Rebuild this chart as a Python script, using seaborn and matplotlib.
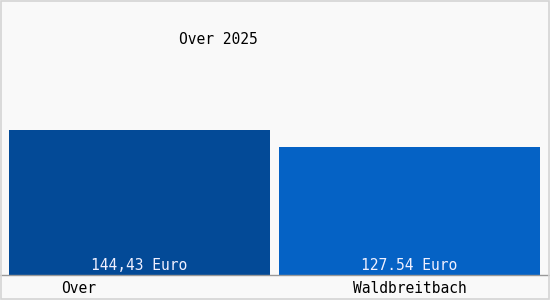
import matplotlib
matplotlib.use("Agg")
import matplotlib.pyplot as plt
import seaborn as sns
import pandas as pd
from matplotlib.patches import Rectangle

categories = ["Over", "Waldbreitbach"]
values = [144.43, 127.54]
value_labels = ["144,43 Euro", "127.54 Euro"]
title = "Over 2025"
bar_colors = ["#034a97", "#0562c5"]

sns.set_style("white")
plt.rcParams["font.family"] = ["DejaVu Sans Mono", "DejaVu Sans"]

df = pd.DataFrame({"cat": categories, "val": values})

fig = plt.figure(figsize=(5.5, 3.0), dpi=100, facecolor="#f9f9f9")
ax = fig.add_axes([0.0, 25 / 300, 1.0, 265 / 300])
ax.set_facecolor("#f9f9f9")

sns.barplot(data=df, x="cat", y="val", hue="cat", palette=bar_colors,
            width=0.967, legend=False, ax=ax, saturation=1, linewidth=0)

ax.set_xlim(-0.515, 1.520)
ax.set_ylim(0, 265 / 1.005)

for i, lab in enumerate(value_labels):
    ax.text(i, 1.5, lab, ha="center", va="bottom", color="#f0f0ff", fontsize=10.5)

ax.set_xticks([-0.224, 1])
ax.set_xticklabels(categories, fontsize=10.5, color="black")
ax.tick_params(axis="x", length=0, pad=4)
ax.set_yticks([])
ax.set_xlabel("")
ax.set_ylabel("")
for s in ["top", "left", "right"]:
    ax.spines[s].set_visible(False)
ax.spines["bottom"].set_color("#999999")
ax.spines["bottom"].set_linewidth(1)

fig.text(218 / 550, 1 - 39 / 300, title, ha="center", va="center", fontsize=10.5, color="black")

fig.patches.append(Rectangle((0.001, 0.002), 0.997, 0.995, transform=fig.transFigure,
                             fill=False, edgecolor="#d4d4d4", linewidth=1.2))

fig.savefig("out.png", dpi=100, facecolor="#f9f9f9")
